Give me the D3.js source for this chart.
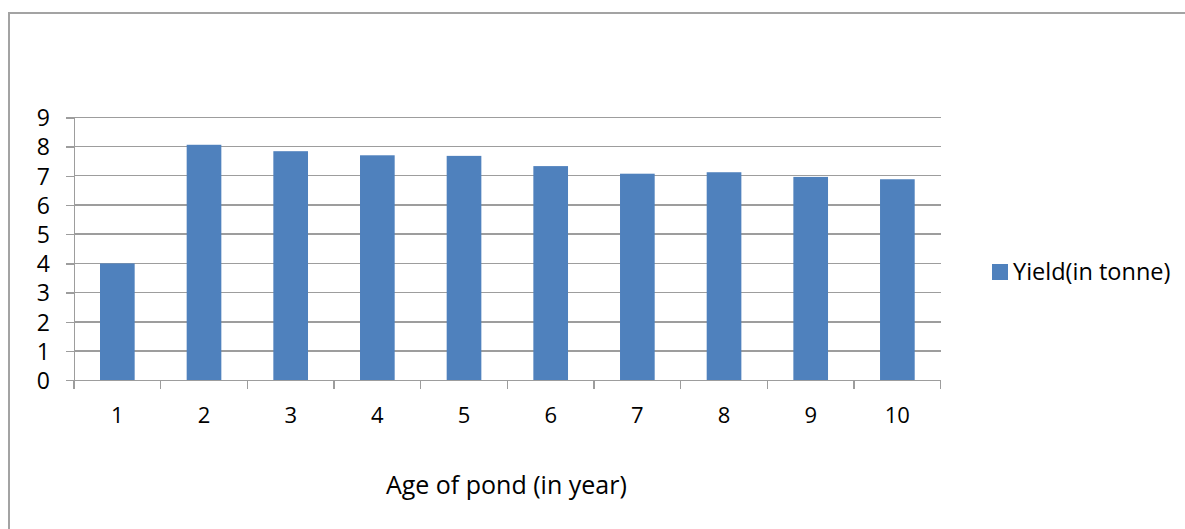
<!DOCTYPE html>
<html>
<head>
<title>Yield by age of pond</title>
<style>
body { margin: 0; background: #fff; }
text {
    font-family: "Open Sans", sans-serif;
    fill: #000;
}
.grid line {
    stroke: #9d9d9d;
    stroke-width: 1.4;
    shape-rendering: crispEdges;
}
.xaxis path, .xaxis line, .yaxis path, .yaxis line {
    stroke: #9d9d9d;
    stroke-width: 1.4;
    shape-rendering: crispEdges;
}
</style>
</head>
<body>
<div id="chart"></div>
<script src="https://cdn.jsdelivr.net/npm/d3@7/dist/d3.min.js"></script>
<script>
    var ages = ["1", "2", "3", "4", "5", "6", "7", "8", "9", "10"];
    var yields = [4.0, 8.06, 7.84, 7.70, 7.68, 7.33, 7.07, 7.12, 6.96, 6.88];
    var yticks = [0, 1, 2, 3, 4, 5, 6, 7, 8, 9];
    var seriesName = "Yield(in tonne)";
    var xTitle = "Age of pond (in year)";

    var dimensions = { width: 1185, height: 529 };
    var plot = { left: 74, right: 940.7, top: 117.3, bottom: 380.3 };

    var svg = d3.select("#chart")
        .append("svg")
        .attr("width", dimensions.width)
        .attr("height", dimensions.height);

    // outer chart frame (runs off the right and bottom edges)
    svg.append("path")
        .attr("d", "M9,540 V13 H1200")
        .attr("fill", "none")
        .attr("stroke", "#a3a3a3")
        .attr("stroke-width", 2);

    var xscale = d3.scaleBand()
        .domain(ages)
        .range([plot.left, plot.right])
        .paddingInner(0.6)
        .paddingOuter(0.3);
    var yscale = d3.scaleLinear()
        .domain([0, 9])
        .range([plot.bottom, plot.top]);

    // horizontal gridlines
    svg.append("g")
        .attr("class", "grid")
        .selectAll("line")
        .data(yticks.slice(1))
        .enter().append("line")
        .attr("x1", plot.left)
        .attr("x2", plot.right)
        .attr("y1", function(d) { return yscale(d); })
        .attr("y2", function(d) { return yscale(d); });

    // bars
    svg.append("g")
        .attr("class", "data")
        .selectAll("rect")
        .data(yields)
        .enter().append("rect")
        .attr("x", function(d, i) { return xscale(ages[i]); })
        .attr("width", xscale.bandwidth())
        .attr("y", function(d) { return yscale(d); })
        .attr("height", function(d) { return plot.bottom - yscale(d); })
        .attr("fill", "#4f81bd");

    // y axis
    var yaxis = d3.axisLeft(yscale)
        .tickValues(yticks)
        .tickSize(8)
        .tickSizeOuter(0)
        .tickPadding(16);
    var gy = svg.append("g")
        .attr("class", "yaxis")
        .attr("transform", "translate(" + plot.left + ",0)")
        .call(yaxis);
    gy.selectAll("text")
        .style("font-size", "23px")
        .attr("dy", "0.36em");

    // x axis: ticks sit on band boundaries, labels in band centres
    var step = xscale.step();
    var bounds = d3.range(ages.length + 1).map(function(i) { return plot.left + i * step; });
    var gx = svg.append("g")
        .attr("class", "xaxis")
        .attr("transform", "translate(0," + plot.bottom + ")");
    gx.append("line")
        .attr("x1", plot.left)
        .attr("x2", plot.right)
        .attr("y1", 0)
        .attr("y2", 0);
    gx.selectAll("line.tick")
        .data(bounds)
        .enter().append("line")
        .attr("class", "tick")
        .attr("x1", function(d) { return d; })
        .attr("x2", function(d) { return d; })
        .attr("y1", 0)
        .attr("y2", 9);
    gx.selectAll("text")
        .data(ages)
        .enter().append("text")
        .attr("x", function(d) { return xscale(d) + xscale.bandwidth() / 2; })
        .attr("y", 43)
        .attr("text-anchor", "middle")
        .style("font-size", "22px")
        .text(function(d) { return d; });

    // axis title
    svg.append("text")
        .attr("x", (plot.left + plot.right) / 2 - 1)
        .attr("y", 494)
        .attr("text-anchor", "middle")
        .style("font-size", "25px")
        .text(xTitle);

    // legend
    var legend = svg.append("g")
        .attr("class", "legend")
        .attr("transform", "translate(992,264)");
    legend.append("rect")
        .attr("width", 16)
        .attr("height", 16)
        .attr("fill", "#4f81bd");
    legend.append("text")
        .attr("x", 21)
        .attr("y", 15.5)
        .style("font-size", "23.5px")
        .text(seriesName);
</script>
</body>
</html>
